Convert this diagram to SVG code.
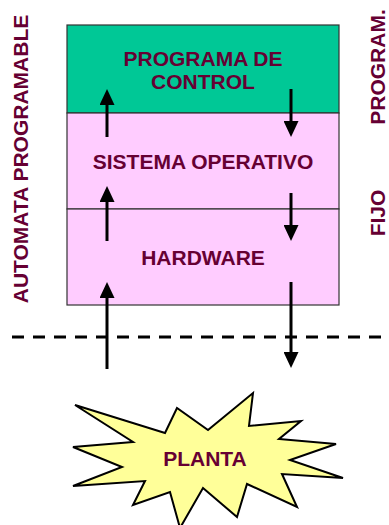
<svg xmlns="http://www.w3.org/2000/svg" width="389" height="525" viewBox="0 0 389 525">
  <style>
    .lbl { font-family: "Liberation Sans", Arial, sans-serif; font-weight: bold; font-size: 21px; fill: #660033; text-anchor: middle; }
    .layer { stroke: #333333; stroke-width: 1.2; }
    .flow { stroke: #000000; stroke-width: 3; fill: none; marker-end: url(#head); }
  </style>
  <defs>
    <marker id="head" markerUnits="userSpaceOnUse" viewBox="0 0 16 15" markerWidth="16" markerHeight="15" refX="2" refY="7.5" orient="auto">
      <path d="M0,0 L16,7.5 L0,15 Z" fill="#000000"/>
    </marker>
  </defs>

  <rect width="389" height="525" fill="#ffffff"/>

  <!-- side labels -->
  <g id="label-automata">
    <text class="lbl" transform="translate(28,159) rotate(-90)">AUTOMATA PROGRAMABLE</text>
  </g>
  <g id="label-program">
    <text class="lbl" transform="translate(385,67) rotate(-90)">PROGRAM.</text>
  </g>
  <g id="label-fijo">
    <text class="lbl" transform="translate(385,213) rotate(-90)">FIJO</text>
  </g>

  <!-- layered stack -->
  <g id="programa-control">
    <rect class="layer" x="67" y="25" width="272" height="88" fill="#00C896"/>
    <text class="lbl" x="203" y="66">PROGRAMA DE</text>
    <text class="lbl" x="203" y="89">CONTROL</text>
  </g>
  <g id="sistema-operativo">
    <rect class="layer" x="67" y="113" width="272" height="96" fill="#FFCCFF"/>
    <text class="lbl" x="203" y="169">SISTEMA OPERATIVO</text>
  </g>
  <g id="hardware">
    <rect class="layer" x="67" y="209" width="272" height="96" fill="#FFCCFF"/>
    <text class="lbl" x="203" y="265">HARDWARE</text>
  </g>

  <!-- boundary -->
  <line x1="12" y1="337" x2="389" y2="337" stroke="#000000" stroke-width="3" stroke-dasharray="12 9"/>

  <!-- plant -->
  <g id="planta">
    <polygon points="75,405 165,433 177,408 208,430 253,393 249,426 301,421 279,439 336,444 290,460 343,478 282,474 297,507 247,484 237,517 203,488 180,528 170,492 133,505 145,481 73,486 122,467 73,447 133,442" fill="#FFFF99" stroke="#000000" stroke-width="2" stroke-linejoin="miter"/>
    <text class="lbl" x="205" y="466">PLANTA</text>
  </g>

  <!-- signal flow -->
  <g id="connectors">
    <line class="flow" x1="107" y1="137" x2="107" y2="103"/>
    <line class="flow" x1="107" y1="241" x2="107" y2="200"/>
    <line class="flow" x1="107" y1="369" x2="107" y2="296"/>
    <line class="flow" x1="291" y1="89" x2="291" y2="123"/>
    <line class="flow" x1="291" y1="193" x2="291" y2="227"/>
    <line class="flow" x1="291" y1="282" x2="291" y2="354"/>
  </g>
</svg>
